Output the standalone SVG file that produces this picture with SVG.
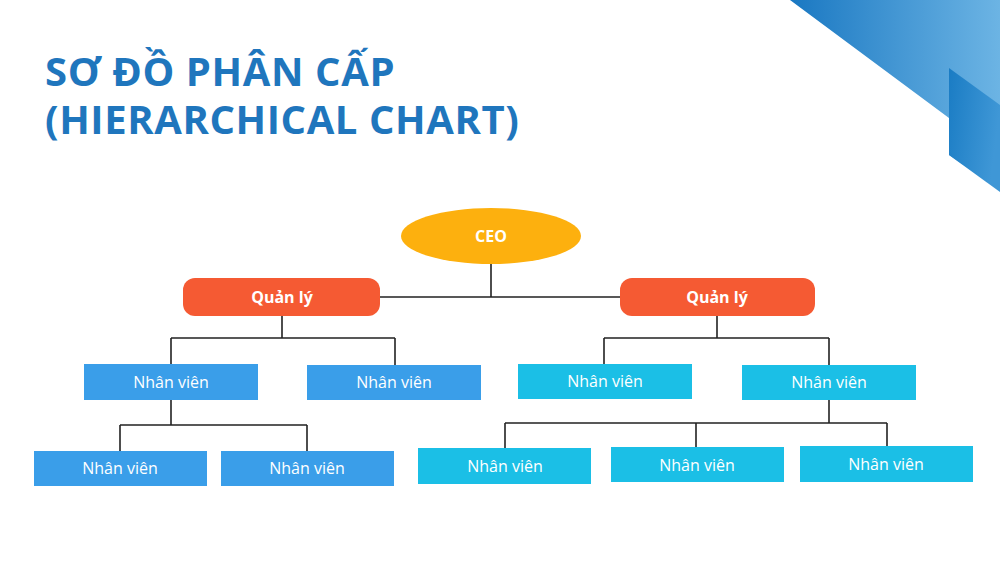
<svg xmlns="http://www.w3.org/2000/svg" width="1000" height="562" viewBox="0 0 1000 562">
<defs>
<linearGradient id="g1" x1="0" y1="0" x2="1" y2="0"><stop offset="0" stop-color="#1a78c2"/><stop offset="1" stop-color="#6cb4e4"/></linearGradient>
<linearGradient id="g2" x1="0" y1="0" x2="1" y2="0.3"><stop offset="0" stop-color="#1a7cc4"/><stop offset="1" stop-color="#3f97d6"/></linearGradient>
</defs>
<style>
.t{font-family:"Open Sans","Liberation Sans",sans-serif;font-weight:bold;fill:#1f76bd;font-size:40px;letter-spacing:0.6px}
.w{font-family:"Open Sans","Liberation Sans",sans-serif;fill:#fff;font-size:16px;text-anchor:middle;dominant-baseline:central}
.b{font-weight:bold;font-size:16px}
.c{stroke:#222;stroke-width:1.6;fill:none}
.nb{fill:#3a9ee9}.nc{fill:#1bbfe6}.m{fill:#f55a33}
</style>
<rect width="1000" height="562" fill="#fff"/>
<polygon points="790,0 1000,0 1000,190 949,155 949,118" fill="url(#g1)"/>
<polygon points="949,68 1000,105 1000,192 949,155" fill="url(#g2)"/>
<text class="t" x="45" y="86">SƠ ĐỒ PHÂN CẤP</text>
<text class="t" x="45" y="134">(HIERARCHICAL CHART)</text>
<g id="connectors" class="c">
<path d="M491,264V297M380,297H620"/>
<path d="M282,316V338M171,338H395M171,338V364M395,338V365"/>
<path d="M717,316V338M604,338H829M604,338V364M829,338V365"/>
<path d="M171,400V425M120,425H307M120,425V451M307,425V451"/>
<path d="M829,400V423M505,423H887M505,423V448M696,423V447M887,423V446"/>
</g>
<g id="ceo"><ellipse cx="491" cy="236" rx="90" ry="28" fill="#fdb00e"/><text class="w b" x="491" y="236">CEO</text></g>
<g id="m1"><rect class="m" x="183" y="278" width="197" height="38" rx="12"/><text class="w b" x="282" y="297">Quản lý</text></g>
<g id="m2"><rect class="m" x="620" y="278" width="195" height="38" rx="12"/><text class="w b" x="717" y="297">Quản lý</text></g>
<g id="n1"><rect class="nb" x="84" y="364" width="174" height="36"/><text class="w" x="171" y="382">Nhân viên</text></g>
<g id="n2"><rect class="nb" x="307" y="365" width="174" height="35"/><text class="w" x="394" y="382">Nhân viên</text></g>
<g id="n3"><rect class="nc" x="518" y="364" width="174" height="35"/><text class="w" x="605" y="381">Nhân viên</text></g>
<g id="n4"><rect class="nc" x="742" y="365" width="174" height="35"/><text class="w" x="829" y="382">Nhân viên</text></g>
<g id="n5"><rect class="nb" x="34" y="451" width="173" height="35"/><text class="w" x="120" y="468">Nhân viên</text></g>
<g id="n6"><rect class="nb" x="221" y="451" width="173" height="35"/><text class="w" x="307" y="468">Nhân viên</text></g>
<g id="n7"><rect class="nc" x="418" y="448" width="173" height="36"/><text class="w" x="505" y="466">Nhân viên</text></g>
<g id="n8"><rect class="nc" x="611" y="447" width="173" height="35"/><text class="w" x="697" y="465">Nhân viên</text></g>
<g id="n9"><rect class="nc" x="800" y="446" width="173" height="36"/><text class="w" x="886" y="464">Nhân viên</text></g>
</svg>
